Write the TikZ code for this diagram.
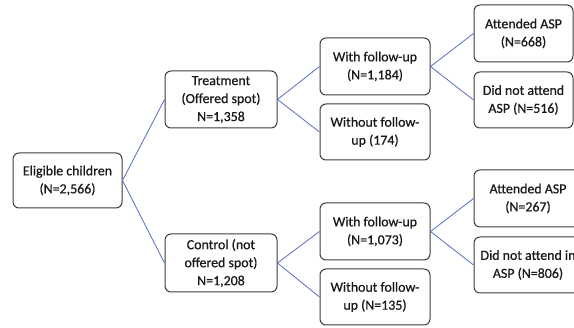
\documentclass[tikz,border=0pt]{standalone}
\usepackage{fontspec}
\setmainfont{Carlito}[FakeBold=0.6]
\definecolor{linkblue}{RGB}{88,108,196}
\definecolor{boxline}{RGB}{60,60,60}
\begin{document}
\begin{tikzpicture}[x=1pt,y=-1pt,
  box/.style={draw=boxline, line width=1pt, rounded corners=6pt, align=center,
    inner sep=0pt, text=black!90, font=\fontsize{13.9}{18}\selectfont},
  link/.style={draw=linkblue, line width=0.8pt}]
\useasboundingbox (0,0) rectangle (574,328);
\fill[white] (0,0) rectangle (574,328);
\clip (0,0) rectangle (574,328);
\node[box, minimum width=109, minimum height=55] (elig) at (67.5,180.5) {Eligible children\\(N=2,566)};
\node[box, minimum width=112, minimum height=57] (treat) at (221,99.5) {Treatment\\(Offered spot)\\N=1,358};
\node[box, minimum width=112, minimum height=58] (ctrl) at (221,263) {Control (not\\offered spot)\\N=1,208};
\node[box, minimum width=110, minimum height=57] (wf1) at (375,66.5) {With follow-up\\(N=1,184)};
\node[box, minimum width=110, minimum height=56] (wo1) at (375,132) {Without follow-\\up (174)};
\node[box, minimum width=110, minimum height=57] (wf2) at (375,231.5) {With follow-up\\(N=1,073)};
\node[box, minimum width=110, minimum height=56] (wo2) at (375,297) {Without follow-\\up (N=135)};
\node[box, minimum width=99, minimum height=57] (att1) at (523.5,33.5) {Attended ASP\\(N=668)};
\node[box, minimum width=99, minimum height=56] (dna1) at (523.5,100) {Did not attend\\ASP (N=516)};
\node[box, minimum width=108, minimum height=57] (att2) at (528,198.5) {Attended ASP\\(N=267)};
\node[box, minimum width=108, minimum height=56] (dna2) at (528,265) {Did not attend in\\ASP (N=806)};
\draw[link] (elig.east) -- (treat.west);
\draw[link] (elig.east) -- (ctrl.west);
\draw[link] (treat.east) -- (wf1.west);
\draw[link] (treat.east) -- (wo1.west);
\draw[link] (ctrl.east) -- (wf2.west);
\draw[link] (ctrl.east) -- (wo2.west);
\draw[link] (wf1.east) -- (att1.west);
\draw[link] (wf1.east) -- (dna1.west);
\draw[link] (wf2.east) -- (att2.west);
\draw[link] (wf2.east) -- (dna2.west);
\end{tikzpicture}
\end{document}
